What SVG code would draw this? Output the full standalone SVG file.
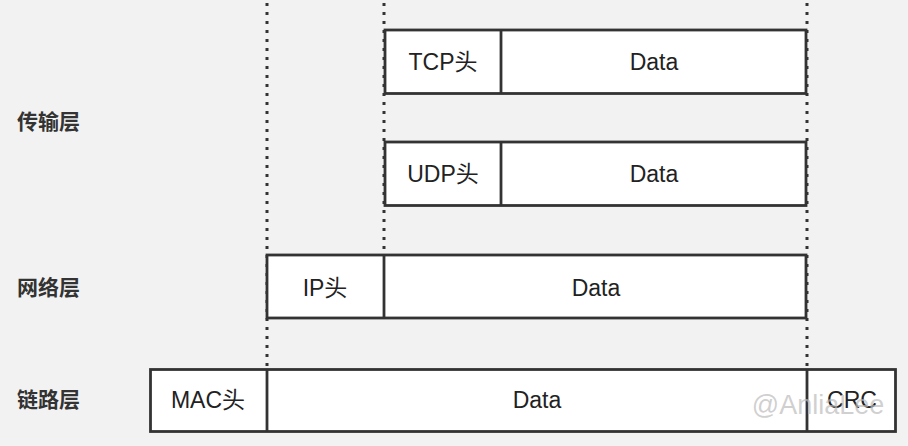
<svg xmlns="http://www.w3.org/2000/svg" width="908" height="446" viewBox="0 0 908 446">
<style>
.bg{fill:#f2f2f2}
.box{fill:#ffffff;stroke:#333333;stroke-width:2.8}
.div{stroke:#333333;stroke-width:2.8}
.dot{stroke:#333333;stroke-width:3;stroke-dasharray:3 6;fill:none}
.t{font-family:"Liberation Sans","Noto Sans CJK SC",sans-serif;font-size:23px;fill:#222222;text-anchor:middle;dominant-baseline:central}
.lbl{font-family:"Noto Sans CJK SC",sans-serif;font-size:21px;font-weight:bold;fill:#333333;dominant-baseline:central}
.wm{font-family:"Liberation Sans",sans-serif;font-size:27px;fill:#bbbbbb;fill-opacity:0.7;text-anchor:middle;dominant-baseline:central}
</style>
<rect class="bg" x="0" y="0" width="908" height="446"/>
<g id="connectors">
<line class="dot" x1="267" y1="3" x2="267" y2="369"/>
<line class="dot" x1="384" y1="3" x2="384" y2="254"/>
<line class="dot" x1="807" y1="3" x2="807" y2="369"/>
</g>
<g id="layer-labels">
<text class="lbl" x="17" y="120">传输层</text>
<text class="lbl" x="17" y="286">网络层</text>
<text class="lbl" x="17" y="398">链路层</text>
</g>
<g id="tcp">
<rect class="box" x="385" y="30" width="421" height="63.5"/>
<line class="div" x1="501" y1="30" x2="501" y2="93.5"/>
<text class="t" x="443" y="62">TCP头</text>
<text class="t" x="654" y="62">Data</text>
</g>
<g id="udp">
<rect class="box" x="385" y="142" width="421" height="63.5"/>
<line class="div" x1="501" y1="142" x2="501" y2="205.5"/>
<text class="t" x="443" y="174">UDP头</text>
<text class="t" x="654" y="174">Data</text>
</g>
<g id="ip">
<rect class="box" x="267" y="255" width="539" height="63"/>
<line class="div" x1="384" y1="255" x2="384" y2="318"/>
<text class="t" x="325" y="288">IP头</text>
<text class="t" x="596" y="288">Data</text>
</g>
<g id="mac">
<rect class="box" x="150.5" y="369.5" width="745" height="62"/>
<line class="div" x1="267" y1="369.5" x2="267" y2="431.5"/>
<line class="div" x1="807" y1="369.5" x2="807" y2="431.5"/>
<text class="t" x="208" y="400">MAC头</text>
<text class="t" x="537" y="400">Data</text>
<text class="t" x="852" y="400">CRC</text>
</g>
<text class="wm" x="818" y="405">@AnliaLee</text>
</svg>
